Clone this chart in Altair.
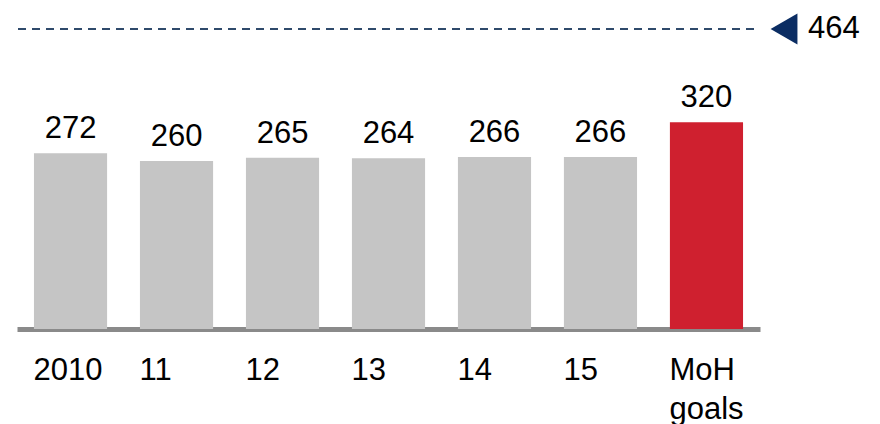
import altair as alt
import pandas as pd

categories = ["2010", "11", "12", "13", "14", "15", "MoH goals"]
values = [272, 260, 265, 264, 266, 266, 320]
groups = ["actual", "actual", "actual", "actual", "actual", "actual", "goal"]
target_value = 464
target_label = "464"

FONT = "Liberation Sans"
FS = 31

df = pd.DataFrame({"cat": categories, "value": values, "group": groups})
tdf = pd.DataFrame({"value": [target_value], "label": [target_label]})

yscale = alt.Scale(domain=[0, 509], nice=False, zero=True)
xenc = alt.X(
    "cat:N",
    sort=None,
    scale=alt.Scale(paddingInner=0.31, paddingOuter=0.16),
    axis=alt.Axis(
        title=None,
        ticks=False,
        tickSize=0,
        domain=True,
        domainColor="#8a8a8a",
        domainWidth=5,
        labelAngle=0,
        labelFont=FONT,
        labelFontSize=FS,
        labelColor="#000000",
        labelAlign="left",
        labelBaseline="top",
        labelOffset=-37,
        labelPadding=26,
        labelLineHeight=39,
        labelOverlap=False,
        labelFlush=False,
        labelLimit=300,
        labelExpr="split(datum.value, ' ')",
        grid=False,
    ),
)

bars = alt.Chart(df).mark_bar().encode(
    x=xenc,
    y=alt.Y("value:Q", scale=yscale, axis=None),
    color=alt.Color(
        "group:N",
        scale=alt.Scale(domain=["actual", "goal"], range=["#c5c5c5", "#cf202f"]),
        legend=None,
    ),
)

labels = alt.Chart(df).mark_text(
    dy=-15, baseline="alphabetic", align="center", font=FONT, fontSize=FS, color="#000000"
).encode(
    x=alt.X("cat:N", sort=None),
    y=alt.Y("value:Q", scale=yscale),
    text=alt.Text("value:Q"),
)

target_line = alt.Chart(tdf).mark_rule(
    strokeDash=[8, 6], strokeWidth=2, color="#2f4a6b"
).encode(
    y=alt.Y("value:Q", scale=yscale),
    x=alt.value(1),
    x2=alt.value(738),
)

target_marker = alt.Chart(tdf).mark_point(
    shape="triangle-left", filled=True, size=960, color="#0b2d63", opacity=1
).encode(
    y=alt.Y("value:Q", scale=yscale),
    x=alt.value(767),
)

target_text = alt.Chart(tdf).mark_text(
    align="left", baseline="middle", font=FONT, fontSize=FS, color="#000000"
).encode(
    y=alt.Y("value:Q", scale=yscale),
    x=alt.value(791),
    text="label:N",
)

chart = (
    alt.layer(bars, labels, target_line, target_marker, target_text)
    .properties(
        width=743,
        height=329,
        autosize=alt.AutoSizeParams(type="none"),
        padding={"left": 17, "top": 0, "right": 120, "bottom": 95},
    )
    .configure_view(stroke=None)
)

chart.save("out.html", embed_options={"renderer": "svg", "actions": False})
